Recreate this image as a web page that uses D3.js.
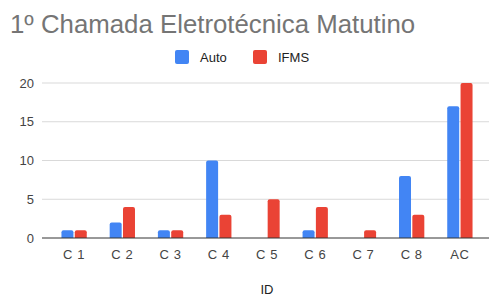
<!DOCTYPE html>
<meta charset="utf-8">
<style>
body { margin: 0; background: #fff; }
text { font-family: "Liberation Sans", Arial, sans-serif; }
</style>
<svg width="490" height="297"></svg>
<script src="https://d3js.org/d3.v7.min.js"></script>
<script>
var categories = ["C 1", "C 2", "C 3", "C 4", "C 5", "C 6", "C 7", "C 8", "AC"];
var seriesNames = ["Auto", "IFMS"];
var autoValues = [1, 2, 1, 10, 0, 1, 0, 8, 17];
var ifmsValues = [1, 4, 1, 3, 5, 4, 1, 3, 20];
var yTicks = [0, 5, 10, 15, 20];
var colors = ["#4285f4", "#ea4335"];

var svg = d3.select("svg");

var x0 = d3.scaleBand().domain(categories).range([50, 484])
    .paddingInner(0.42).paddingOuter(0.21);
var x1 = d3.scaleBand().domain(seriesNames).range([0, x0.bandwidth()]).padding(0.1);
var y = d3.scaleLinear().domain([0, 20]).range([238, 83]);

// title
svg.append("text")
    .attr("x", 10).attr("y", 33)
    .attr("font-size", 25.8)
    .attr("fill", "#757575")
    .text("1º Chamada Eletrotécnica Matutino");

// legend
var legend = svg.append("g");
var legendX = [175, 253];
seriesNames.forEach(function(name, i) {
  legend.append("rect")
      .attr("x", legendX[i]).attr("y", 50)
      .attr("width", 14).attr("height", 14)
      .attr("rx", 2)
      .attr("fill", colors[i]);
  legend.append("text")
      .attr("x", legendX[i] + 25).attr("y", 62)
      .attr("font-size", 13)
      .attr("fill", "#222")
      .text(name);
});

// grid
svg.append("g").selectAll("line")
    .data(yTicks.filter(function(d) { return d > 0; }))
  .join("line")
    .attr("x1", 42).attr("x2", 489)
    .attr("y1", function(d) { return y(d); })
    .attr("y2", function(d) { return y(d); })
    .attr("stroke", "#d9d9d9");

// y labels
svg.append("g").selectAll("text")
    .data(yTicks)
  .join("text")
    .attr("x", 34)
    .attr("y", function(d) { return y(d) + 4.5; })
    .attr("text-anchor", "end")
    .attr("font-size", 13)
    .attr("fill", "#444")
    .text(function(d) { return d; });

// bars
function barPath(xl, w, yt, yb) {
  var h = yb - yt;
  if (h <= 0) return "";
  var r = Math.min(2, h, w / 2);
  return "M" + xl + "," + yb +
    "V" + (yt + r) +
    "Q" + xl + "," + yt + " " + (xl + r) + "," + yt +
    "H" + (xl + w - r) +
    "Q" + (xl + w) + "," + yt + " " + (xl + w) + "," + (yt + r) +
    "V" + yb + "Z";
}

var rows = categories.map(function(c, i) {
  return {cat: c, vals: [autoValues[i], ifmsValues[i]]};
});

var groups = svg.append("g").selectAll("g")
    .data(rows)
  .join("g")
    .attr("transform", function(d) { return "translate(" + x0(d.cat) + ",0)"; });

groups.selectAll("path")
    .data(function(d) { return d.vals.map(function(v, i) { return {name: seriesNames[i], v: v, i: i}; }); })
  .join("path")
    .attr("fill", function(d) { return colors[d.i]; })
    .attr("d", function(d) { return barPath(x1(d.name), x1.bandwidth(), y(d.v), y(0)); });

// baseline
svg.append("line")
    .attr("x1", 42).attr("x2", 489)
    .attr("y1", y(0)).attr("y2", y(0))
    .attr("stroke", "#333");

// x labels
svg.append("g").selectAll("text")
    .data(categories)
  .join("text")
    .attr("x", function(d) { return x0(d) + x0.bandwidth() / 2; })
    .attr("y", 259)
    .attr("text-anchor", "middle")
    .attr("font-size", 13)
    .attr("letter-spacing", 0.6)
    .attr("fill", "#444")
    .text(function(d) { return d; });

svg.append("text")
    .attr("x", 267).attr("y", 294)
    .attr("text-anchor", "middle")
    .attr("font-size", 13)
    .attr("fill", "#222")
    .text("ID");
</script>
